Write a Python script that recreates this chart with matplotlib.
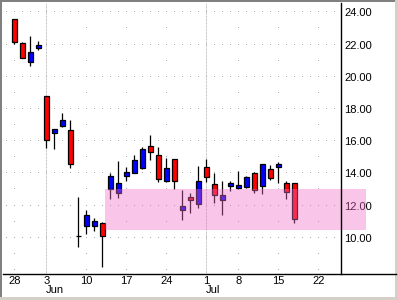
import numpy as np
import pandas as pd
import matplotlib
matplotlib.use("Agg")
import matplotlib.pyplot as plt
from matplotlib.lines import Line2D
from matplotlib.patches import Rectangle

plt.rcParams['font.family'] = ['Liberation Sans', 'DejaVu Sans']

# daily prices, May 28 - Jul 17 2002
dates = ['2002-05-28', '2002-05-29', '2002-05-30', '2002-05-31',
         '2002-06-03', '2002-06-04', '2002-06-05', '2002-06-06', '2002-06-07',
         '2002-06-10', '2002-06-11', '2002-06-12', '2002-06-13', '2002-06-14',
         '2002-06-17', '2002-06-18', '2002-06-19', '2002-06-20', '2002-06-21',
         '2002-06-24', '2002-06-25', '2002-06-26', '2002-06-27', '2002-06-28',
         '2002-07-01', '2002-07-02', '2002-07-03', '2002-07-05',
         '2002-07-08', '2002-07-09', '2002-07-10', '2002-07-11', '2002-07-12',
         '2002-07-15', '2002-07-16', '2002-07-17']
opens = [23.57, 22.07, 20.89, 21.80,
         18.78, 16.52, 16.94, 16.69, 10.09,
         10.71, 10.75, 10.89, 13.04, 12.76,
         13.81, 14.00, 14.33, 15.70, 15.14,
         13.54, 14.87, 11.74, 12.51, 12.07,
         14.37, 13.32, 12.32, 13.21,
         13.07, 13.17, 14.00, 13.19, 14.29,
         14.39, 13.42, 13.40]
highs = [23.60, 22.14, 22.53, 22.20,
         18.80, 16.77, 17.75, 17.33, 12.53,
         11.72, 11.22, 10.97, 14.04, 14.78,
         14.39, 15.14, 15.65, 16.38, 15.61,
         14.97, 14.87, 12.98, 12.78, 14.45,
         14.89, 14.00, 13.54, 13.54,
         14.14, 13.85, 14.08, 14.56, 14.50,
         14.68, 13.52, 13.40]
lows = [22.05, 21.14, 20.68, 21.66,
        15.59, 15.53, 16.89, 14.35, 9.41,
        10.25, 10.42, 8.20, 12.42, 12.48,
        13.52, 14.00, 14.27, 14.84, 13.46,
        13.48, 13.04, 11.12, 11.55, 11.86,
        13.44, 12.17, 11.41, 12.92,
        13.03, 13.10, 12.80, 12.71, 13.60,
        13.38, 12.42, 10.93]
closes = [22.17, 21.14, 21.52, 21.97,
          16.07, 16.73, 17.31, 14.56, 10.09,
          11.39, 11.02, 10.12, 13.81, 13.40,
          14.08, 14.81, 15.49, 15.34, 13.66,
          14.31, 13.52, 11.95, 12.32, 13.52,
          13.75, 12.63, 12.63, 13.38,
          13.25, 13.79, 12.98, 14.56, 13.69,
          14.56, 12.84, 11.14]

# shaded zone
zone_low, zone_high = 10.5, 13.0
zone_start, zone_end = '2002-06-12', '2002-07-30'

tick_dates = ['2002-05-28', '2002-06-03', '2002-06-10', '2002-06-17', '2002-06-24',
              '2002-07-01', '2002-07-08', '2002-07-15', '2002-07-22']
tick_labels = ['28', '3', '10', '17', '24', '1', '8', '15', '22']
month_dates = ['2002-06-03', '2002-07-01']
month_labels = ['Jun', 'Jul']
ytick_values = [10, 12, 14, 16, 18, 20, 22, 24]

# trading-day calendar (skip weekends and Jul 4)
cal = pd.bdate_range('2002-05-24', '2002-08-09')
cal = cal[cal != pd.Timestamp('2002-07-04')]
first = cal.get_loc(pd.Timestamp(dates[0]))
def pos(d):
    return cal.get_loc(pd.Timestamp(d)) - first

x = np.array([pos(d) for d in dates])
o, h, l, c = map(np.array, (opens, highs, lows, closes))

W, H = 398, 300
fig = plt.figure(figsize=(W / 100, H / 100), dpi=100)
fig.patch.set_facecolor('white')
ax = fig.add_axes([3 / W, 26 / H, 338.3 / W, 271 / H])
ax.set_facecolor('white')

xmin, xmax = -1.41, 40.875
ymin, ymax = 7.745, 24.58
ax.set_xlim(xmin, xmax)
ax.set_ylim(ymin, ymax)

# dotted grid
grey = '#a8a8a8'
days = np.arange(-1, 41)
for yv in ytick_values:
    ax.plot(days, np.full(len(days), yv), ',', color=grey, zorder=0)
yints = np.arange(8, 25)
for d in tick_dates:
    xp = pos(d)
    if d in month_dates:
        ax.axvline(xp, color='#b0b0b0', lw=0.72, dashes=(0.72, 0.72), zorder=0)
    else:
        ax.plot(np.full(len(yints), xp), yints, ',', color=grey, zorder=0)

# candles
up = c >= o
colors = np.where(up, '#0000ff', '#ff0000')
ax.vlines(x, l, h, color='black', lw=0.9, zorder=2)
ax.bar(x, np.abs(c - o), bottom=np.minimum(o, c), width=0.6,
       color=colors, edgecolor='black', linewidth=0.9, zorder=3)

# zone band
zx0 = pos(zone_start) + 0.34
zx1 = pos(zone_end) - 0.04
ax.add_patch(Rectangle((zx0, zone_low), zx1 - zx0, zone_high - zone_low,
                       facecolor='#f06ec8', alpha=0.4, edgecolor='none',
                       clip_on=False, zorder=4))

# axes styling
for s in ['left', 'top', 'bottom']:
    ax.spines[s].set_visible(False)
ax.spines['right'].set_color('black')
ax.spines['right'].set_linewidth(1)
ax.spines['right'].set_zorder(6)

ax.yaxis.tick_right()
ax.set_yticks(ytick_values)
ax.set_yticklabels([f'{v:.2f}' for v in ytick_values])
ax.tick_params(axis='y', length=0, pad=2, labelsize=8, labelcolor='black')
for t in ax.get_yticklabels():
    t.set_zorder(7)

ax.set_xticks([pos(d) for d in tick_dates])
ax.set_xticklabels(tick_labels)
ax.tick_params(axis='x', length=0, pad=1.5, labelsize=8, labelcolor='black')

for d, m in zip(month_dates, month_labels):
    ax.text(pos(d) - 0.1, -0.059, m, transform=ax.get_xaxis_transform(),
            ha='left', va='center', fontsize=8, clip_on=False)

# bottom axis line running under the label column
fig.add_artist(Line2D([3 / W, 396 / W], [26 / H, 26 / H], color='black', lw=1))

# sunken window border
fig.add_artist(Rectangle((0, (H - 2) / H), 1, 2 / H, transform=fig.transFigure,
                         facecolor='#808080', edgecolor='none'))
fig.add_artist(Rectangle((0, 0), 2 / W, 1, transform=fig.transFigure,
                         facecolor='#808080', edgecolor='none'))
fig.add_artist(Rectangle((0, 0), 1, 3 / H, transform=fig.transFigure,
                         facecolor='#d4d0c8', edgecolor='none'))
fig.add_artist(Rectangle(((W - 3) / W, 0), 3 / W, 1, transform=fig.transFigure,
                         facecolor='#d4d0c8', edgecolor='none'))

fig.savefig('out.png', dpi=100)
